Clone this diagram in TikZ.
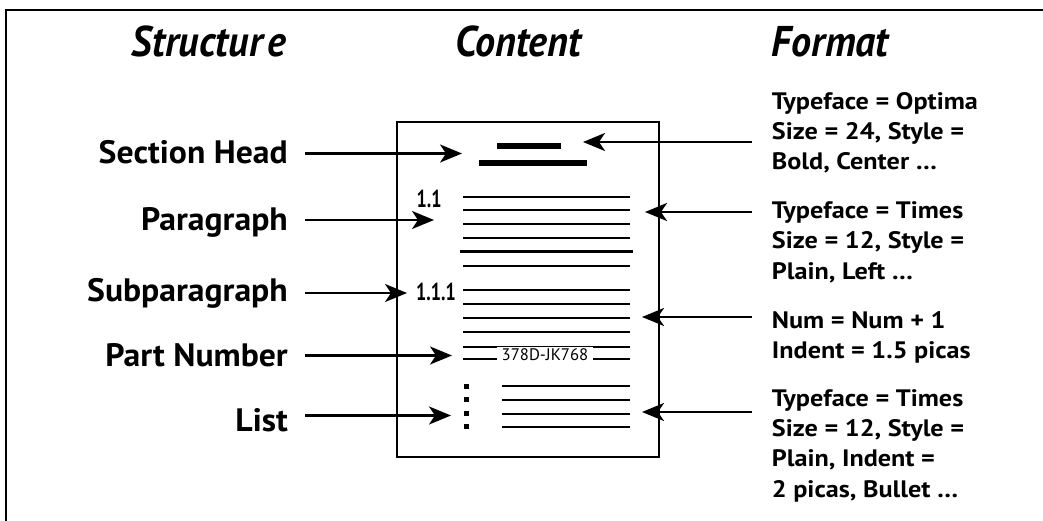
\documentclass[tikz,border=0pt]{standalone}
\usepackage{fontspec}
\setmainfont{PT Sans}
\newfontfamily\titlefont{PT Sans}[FakeStretch=0.93]
\newfontfamily\numfont{PT Sans}[FakeStretch=0.74]
\newfontfamily\labelfont{PT Sans}[FakeStretch=1.04]
\newfontfamily\fmtfont{PT Sans}[FakeStretch=1.1]
\usetikzlibrary{arrows.meta}

\tikzset{
  txt/.style={inner sep=0pt},
  heading/.style={txt, anchor=base west, font=\titlefont\bfseries\itshape\fontsize{43}{50}\selectfont},
  part/.style={txt, anchor=base east, font=\labelfont\bfseries\fontsize{32.4}{38}\selectfont},
  fmt/.style={txt, anchor=base west, align=left, font=\fmtfont\bfseries\fontsize{23.8}{30.1}\selectfont},
  secnum/.style={txt, anchor=base west, font=\numfont\bfseries\fontsize{24.5}{28}\selectfont},
  partno/.style={anchor=base, fill=white, inner xsep=4.5pt, inner ysep=1.8pt,
                 text height=11.7pt, text depth=0pt, font=\fontsize{16.7}{20}\selectfont},
  pointer/.style={line width=2.4pt, -{Stealth[length=22pt,width=18pt,inset=6pt]}},
  textline/.style={line width=2pt},
  ruleline/.style={line width=3pt},
  headbar/.style={line width=5.5pt},
  bullet/.style={fill=black, minimum width=5pt, minimum height=5pt, inner sep=0pt},
  page/.style={draw, line width=2.5pt},
}

\begin{document}
\begin{tikzpicture}[x=1pt, y=-1pt]
  \useasboundingbox (0,0) rectangle (1043,521);

  % frame
  \draw[line width=1.8pt] (6,521) -- (6,10) -- (1043,10);

  % column headings
  \node[heading] (hstruct) at (131.7,57) {Structur\kern0.1em e};
  \node[heading] (hcontent) at (455,57) {Content};
  \node[heading] (hformat) at (771.7,57) {Format};

  % the page
  \draw[page] (397,122) rectangle (659,457);
  \draw[headbar] (497,146) -- (561,146);
  \draw[headbar] (479,163) -- (587,163);
  \foreach \y in {196.7,210,223.7,237.7,265.7,290,303.7,317.7,332.3,346.7,358.7}
    \draw[textline] (463,\y) -- (630,\y);
  \draw[ruleline] (460,251.3) -- (633,251.3);
  \foreach \y in {386,399.7,413.7,426.7} {
    \draw[textline] (502,\y) -- (630,\y);
    \node[bullet] at (466,\y) {};
  }
  \node[secnum] (n11) at (416.5,207.3) {1.1};
  \node[secnum] (n111) at (416,300.7) {1.1.1};
  \node[partno] (pn) at (545,360) {378D-JK768};

  % structure labels
  \node[part] (sechead) at (288,163.3) {Section Head};
  \node[part] (para) at (288,230) {Paragraph};
  \node[part] (subpara) at (288,301.7) {Subparagraph};
  \node[part] (partnum) at (288,366) {Part Number};
  \node[part] (list) at (288,431.7) {List};

  \coordinate (s1) at (305,153.5);  \coordinate (t1) at (462,153.5);
  \coordinate (s2) at (305,220);    \coordinate (t2) at (434,220);
  \coordinate (s3) at (305,293);    \coordinate (t3) at (407,293);
  \coordinate (s4) at (305,355.5);  \coordinate (t4) at (452,355.5);
  \coordinate (s5) at (305,415.5);  \coordinate (t5) at (451,415.5);
  \foreach \i in {1,...,5} \draw[pointer] (s\i) -- (t\i);

  % format descriptions (anchored at the baseline of their last line)
  \node[fmt] (f1) at (771.7,169.5) {Typeface = Optima\\Size = 24, Style =\\Bold, Center …};
  \node[fmt] (f2) at (771.7,279) {Typeface = Times\\Size = 12, Style =\\Plain, Left …};
  \node[fmt] (f3) at (771.7,358.5) {Num = Num + 1\\Indent = 1.5 picas};
  \node[fmt] (f4) at (771.7,497) {Typeface = Times\\Size = 12, Style =\\Plain, Indent =\\2 picas, Bullet …};

  \coordinate (r1) at (752,142);    \coordinate (u1) at (583,142);
  \coordinate (r2) at (752,212);    \coordinate (u2) at (645,212);
  \coordinate (r3) at (752,317);    \coordinate (u3) at (642,317);
  \coordinate (r4) at (752,412);    \coordinate (u4) at (642,412);
  \foreach \i in {1,...,4} \draw[pointer] (r\i) -- (u\i);
\end{tikzpicture}
\end{document}
